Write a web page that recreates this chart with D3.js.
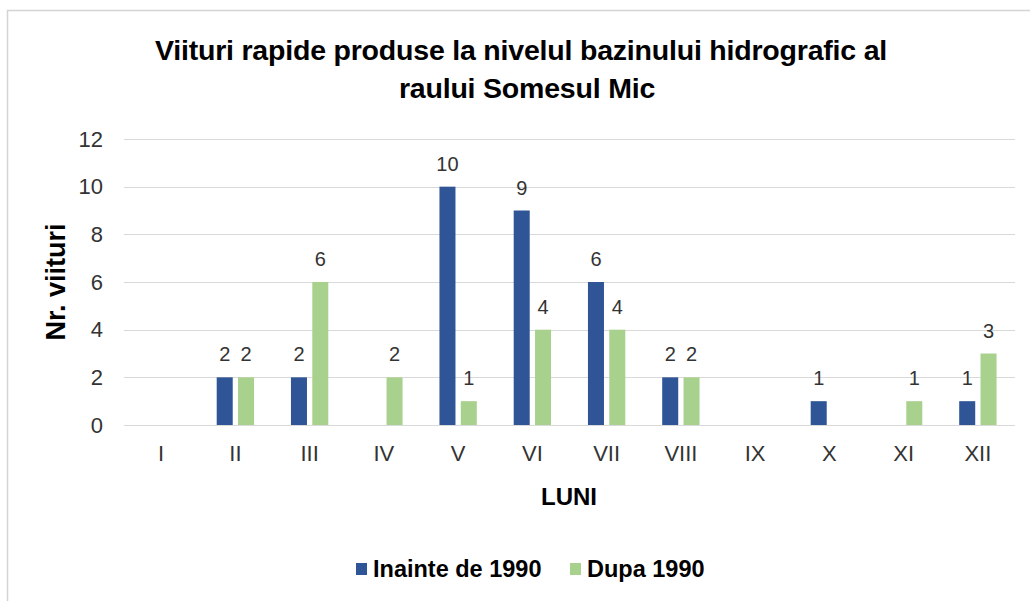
<!DOCTYPE html>
<html>
<head>
<meta charset="utf-8">
<script src="https://cdn.jsdelivr.net/npm/d3@7"></script>
<style>
  body { margin: 0; background: #fff; }
  svg text { font-family: "Liberation Sans", Arial, sans-serif; }
</style>
</head>
<body>
<div id="chart"></div>
<script>
// Data
const months = ["I", "II", "III", "IV", "V", "VI", "VII", "VIII", "IX", "X", "XI", "XII"];
const beforeValues = [0, 2, 2, 0, 10, 9, 6, 2, 0, 1, 0, 1];
const afterValues = [0, 2, 6, 2, 1, 4, 4, 2, 0, 0, 1, 3];
const seriesNames = ["Inainte de 1990", "Dupa 1990"];
const yTicks = [0, 2, 4, 6, 8, 10, 12];
const titleLines = ["Viituri rapide produse la nivelul bazinului hidrografic al", "raului Somesul Mic"];

const width = 1030, height = 601;
const colors = ["#2F5597", "#A9D18E"];

const svg = d3.select("#chart")
  .append("svg")
  .attr("width", width)
  .attr("height", height);

// chart frame
svg.append("rect")
  .attr("x", 7.5).attr("y", 10.5)
  .attr("width", 1100).attr("height", 700)
  .attr("fill", "#fff")
  .attr("stroke", "#d4d4d4")
  .attr("stroke-width", 1.5);

const x = d3.scaleBand()
  .domain(months)
  .range([124, 1015])
  .paddingInner(0.497)
  .paddingOuter(0.2485);

const xInner = d3.scaleBand()
  .domain(seriesNames)
  .range([0, x.bandwidth()])
  .paddingInner(0.249);

const y = d3.scaleLinear()
  .domain([0, 12])
  .range([425, 139]);

// gridlines
svg.append("g")
  .selectAll("line")
  .data(yTicks)
  .enter().append("line")
  .attr("x1", 124).attr("x2", 1015)
  .attr("y1", d => Math.round(y(d)) + 0.5)
  .attr("y2", d => Math.round(y(d)) + 0.5)
  .attr("stroke", "#d9d9d9")
  .attr("stroke-width", 1);

// y axis labels
const yAxis = svg.append("g")
  .attr("transform", "translate(124,0)")
  .call(d3.axisLeft(y).tickValues(yTicks).tickSize(0).tickPadding(21));
yAxis.select(".domain").remove();
yAxis.selectAll("text")
  .attr("font-size", 22)
  .attr("fill", "#333")
  .attr("font-family", null);

// x axis labels
const xAxis = svg.append("g")
  .attr("transform", "translate(0,425)")
  .call(d3.axisBottom(x).tickSize(0).tickPadding(20));
xAxis.select(".domain").remove();
xAxis.selectAll("text")
  .attr("font-size", 22)
  .attr("fill", "#333")
  .attr("font-family", null);

// bars
const rows = months.map((m, i) => ({
  month: m,
  values: [
    { series: seriesNames[0], value: beforeValues[i], idx: 0 },
    { series: seriesNames[1], value: afterValues[i], idx: 1 }
  ]
}));

const groups = svg.append("g")
  .selectAll("g")
  .data(rows)
  .enter().append("g")
  .attr("transform", d => `translate(${x(d.month)},0)`);

groups.selectAll("rect")
  .data(d => d.values.filter(v => v.value > 0))
  .enter().append("rect")
  .attr("x", d => xInner(d.series))
  .attr("y", d => y(d.value))
  .attr("width", xInner.bandwidth())
  .attr("height", d => y(0) - y(d.value))
  .attr("fill", d => colors[d.idx]);

groups.selectAll("text")
  .data(d => d.values.filter(v => v.value > 0))
  .enter().append("text")
  .attr("x", d => xInner(d.series) + xInner.bandwidth() / 2)
  .attr("y", d => y(d.value) - 16)
  .attr("text-anchor", "middle")
  .attr("font-size", 20)
  .attr("fill", "#333")
  .text(d => d.value);

// title
svg.append("g")
  .selectAll("text")
  .data(titleLines)
  .enter().append("text")
  .attr("x", (d, i) => i === 0 ? 521 : 527)
  .attr("y", (d, i) => 60 + i * 38)
  .attr("text-anchor", "middle")
  .attr("font-size", 28.5)
  .attr("font-weight", "bold")
  .attr("letter-spacing", "-0.2px")
  .attr("fill", "#000")
  .text(d => d);

// axis titles
svg.append("text")
  .attr("x", 569)
  .attr("y", 505)
  .attr("text-anchor", "middle")
  .attr("font-size", 24)
  .attr("font-weight", "bold")
  .attr("fill", "#000")
  .text("LUNI");

svg.append("text")
  .attr("transform", "translate(65,282) rotate(-90)")
  .attr("text-anchor", "middle")
  .attr("font-size", 27)
  .attr("font-weight", "bold")
  .attr("fill", "#000")
  .text("Nr. viituri");

// legend
const legendX = [356, 570];
const legend = svg.append("g")
  .selectAll("g")
  .data(seriesNames)
  .enter().append("g")
  .attr("transform", (d, i) => `translate(${legendX[i]},563)`);

legend.append("rect")
  .attr("width", 11).attr("height", 12)
  .attr("fill", (d, i) => colors[i]);

legend.append("text")
  .attr("x", 17)
  .attr("y", 14)
  .attr("font-size", 23.5)
  .attr("font-weight", "bold")
  .attr("fill", "#000")
  .text(d => d);
</script>
</body>
</html>
